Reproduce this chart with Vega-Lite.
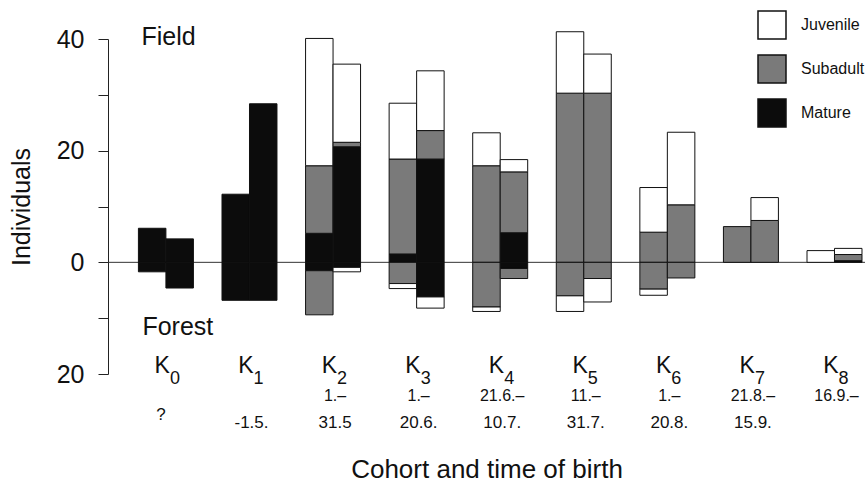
{
  "$schema": "https://vega.github.io/schema/vega-lite/v6.json",
  "width": 757,
  "height": 335,
  "autosize": {"type": "none"},
  "padding": {"left": 108, "top": 39, "right": 3, "bottom": 114},
  "background": "white",
  "config": {"view": {"stroke": null}, "font": "Liberation Sans"},
  "datasets": {
    "bars": [
      {"cohort": "K0", "bar": "a", "stage": "Mature", "rank": 1, "n": 6.1},
      {"cohort": "K0", "bar": "a", "stage": "Mature", "rank": 1, "n": -1.7},
      {"cohort": "K0", "bar": "b", "stage": "Mature", "rank": 1, "n": 4.2},
      {"cohort": "K0", "bar": "b", "stage": "Mature", "rank": 1, "n": -4.6},
      {"cohort": "K1", "bar": "a", "stage": "Mature", "rank": 1, "n": 12.2},
      {"cohort": "K1", "bar": "a", "stage": "Mature", "rank": 1, "n": -6.8},
      {"cohort": "K1", "bar": "b", "stage": "Mature", "rank": 1, "n": 28.4},
      {"cohort": "K1", "bar": "b", "stage": "Mature", "rank": 1, "n": -6.8},
      {"cohort": "K2", "bar": "a", "stage": "Mature", "rank": 1, "n": 5.2},
      {"cohort": "K2", "bar": "a", "stage": "Subadult", "rank": 2, "n": 12.1},
      {"cohort": "K2", "bar": "a", "stage": "Juvenile", "rank": 3, "n": 22.8},
      {"cohort": "K2", "bar": "a", "stage": "Mature", "rank": 1, "n": -1.5},
      {"cohort": "K2", "bar": "a", "stage": "Subadult", "rank": 2, "n": -7.9},
      {"cohort": "K2", "bar": "b", "stage": "Mature", "rank": 1, "n": 20.7},
      {"cohort": "K2", "bar": "b", "stage": "Subadult", "rank": 2, "n": 0.8},
      {"cohort": "K2", "bar": "b", "stage": "Juvenile", "rank": 3, "n": 14.0},
      {"cohort": "K2", "bar": "b", "stage": "Mature", "rank": 1, "n": -0.9},
      {"cohort": "K2", "bar": "b", "stage": "Juvenile", "rank": 3, "n": -0.8},
      {"cohort": "K3", "bar": "a", "stage": "Mature", "rank": 1, "n": 1.5},
      {"cohort": "K3", "bar": "a", "stage": "Subadult", "rank": 2, "n": 17.0},
      {"cohort": "K3", "bar": "a", "stage": "Juvenile", "rank": 3, "n": 10.0},
      {"cohort": "K3", "bar": "a", "stage": "Subadult", "rank": 2, "n": -3.8},
      {"cohort": "K3", "bar": "a", "stage": "Juvenile", "rank": 3, "n": -0.9},
      {"cohort": "K3", "bar": "b", "stage": "Mature", "rank": 1, "n": 18.5},
      {"cohort": "K3", "bar": "b", "stage": "Subadult", "rank": 2, "n": 5.1},
      {"cohort": "K3", "bar": "b", "stage": "Juvenile", "rank": 3, "n": 10.7},
      {"cohort": "K3", "bar": "b", "stage": "Mature", "rank": 1, "n": -6.2},
      {"cohort": "K3", "bar": "b", "stage": "Juvenile", "rank": 3, "n": -2.0},
      {"cohort": "K4", "bar": "a", "stage": "Subadult", "rank": 2, "n": 17.3},
      {"cohort": "K4", "bar": "a", "stage": "Juvenile", "rank": 3, "n": 5.9},
      {"cohort": "K4", "bar": "a", "stage": "Subadult", "rank": 2, "n": -8.0},
      {"cohort": "K4", "bar": "a", "stage": "Juvenile", "rank": 3, "n": -0.8},
      {"cohort": "K4", "bar": "b", "stage": "Mature", "rank": 1, "n": 5.3},
      {"cohort": "K4", "bar": "b", "stage": "Subadult", "rank": 2, "n": 10.9},
      {"cohort": "K4", "bar": "b", "stage": "Juvenile", "rank": 3, "n": 2.2},
      {"cohort": "K4", "bar": "b", "stage": "Mature", "rank": 1, "n": -1.1},
      {"cohort": "K4", "bar": "b", "stage": "Subadult", "rank": 2, "n": -1.8},
      {"cohort": "K5", "bar": "a", "stage": "Subadult", "rank": 2, "n": 30.3},
      {"cohort": "K5", "bar": "a", "stage": "Juvenile", "rank": 3, "n": 11.0},
      {"cohort": "K5", "bar": "a", "stage": "Subadult", "rank": 2, "n": -6.0},
      {"cohort": "K5", "bar": "a", "stage": "Juvenile", "rank": 3, "n": -2.8},
      {"cohort": "K5", "bar": "b", "stage": "Subadult", "rank": 2, "n": 30.3},
      {"cohort": "K5", "bar": "b", "stage": "Juvenile", "rank": 3, "n": 7.0},
      {"cohort": "K5", "bar": "b", "stage": "Subadult", "rank": 2, "n": -2.9},
      {"cohort": "K5", "bar": "b", "stage": "Juvenile", "rank": 3, "n": -4.2},
      {"cohort": "K6", "bar": "a", "stage": "Subadult", "rank": 2, "n": 5.4},
      {"cohort": "K6", "bar": "a", "stage": "Juvenile", "rank": 3, "n": 8.0},
      {"cohort": "K6", "bar": "a", "stage": "Subadult", "rank": 2, "n": -4.8},
      {"cohort": "K6", "bar": "a", "stage": "Juvenile", "rank": 3, "n": -1.1},
      {"cohort": "K6", "bar": "b", "stage": "Subadult", "rank": 2, "n": 10.3},
      {"cohort": "K6", "bar": "b", "stage": "Juvenile", "rank": 3, "n": 13.0},
      {"cohort": "K6", "bar": "b", "stage": "Subadult", "rank": 2, "n": -2.8},
      {"cohort": "K7", "bar": "a", "stage": "Subadult", "rank": 2, "n": 6.4},
      {"cohort": "K7", "bar": "b", "stage": "Subadult", "rank": 2, "n": 7.5},
      {"cohort": "K7", "bar": "b", "stage": "Juvenile", "rank": 3, "n": 4.1},
      {"cohort": "K8", "bar": "a", "stage": "Juvenile", "rank": 3, "n": 2.1},
      {"cohort": "K8", "bar": "b", "stage": "Mature", "rank": 1, "n": 0.3},
      {"cohort": "K8", "bar": "b", "stage": "Subadult", "rank": 2, "n": 1.1},
      {"cohort": "K8", "bar": "b", "stage": "Juvenile", "rank": 3, "n": 1.1}
    ],
    "cohorts": [
      {"cohort": "K0", "sub": "0", "from": "", "mid": "?", "to": ""},
      {"cohort": "K1", "sub": "1", "from": "", "mid": "", "to": "-1.5."},
      {"cohort": "K2", "sub": "2", "from": "1.–", "mid": "", "to": "31.5"},
      {"cohort": "K3", "sub": "3", "from": "1.–", "mid": "", "to": "20.6."},
      {"cohort": "K4", "sub": "4", "from": "21.6.–", "mid": "", "to": "10.7."},
      {"cohort": "K5", "sub": "5", "from": "11.–", "mid": "", "to": "31.7."},
      {"cohort": "K6", "sub": "6", "from": "1.–", "mid": "", "to": "20.8."},
      {"cohort": "K7", "sub": "7", "from": "21.8.–", "mid": "", "to": "15.9."},
      {"cohort": "K8", "sub": "8", "from": "16.9.–", "mid": "", "to": ""}
    ]
  },
  "layer": [
    {
      "data": {"values": [{}]},
      "mark": {"type": "rule", "color": "#333333", "strokeWidth": 1},
      "encoding": {"y": {"datum": 0}}
    },
    {
      "data": {"name": "bars"},
      "mark": {"type": "bar", "stroke": "#111111", "strokeWidth": 1},
      "encoding": {
        "x": {
          "field": "cohort",
          "type": "nominal",
          "scale": {"paddingInner": 0.342, "paddingOuter": 0.2, "align": 0.91},
          "axis": {
            "labels": false,
            "ticks": false,
            "domain": false,
            "title": "Cohort and time of birth",
            "titleFontSize": 26,
            "titleFontWeight": "normal",
            "titleColor": "#111111",
            "titlePadding": 82
          }
        },
        "xOffset": {
          "field": "bar",
          "type": "nominal",
          "scale": {"paddingInner": 0, "paddingOuter": 0}
        },
        "y": {
          "field": "n",
          "type": "quantitative",
          "stack": "zero",
          "scale": {"domain": [-20, 40], "nice": false},
          "axis": {
            "values": [-20, -10, 0, 10, 20, 30, 40],
            "labelExpr": "datum.value % 20 === 0 ? abs(datum.value) : ''",
            "grid": false,
            "tickSize": 10,
            "tickColor": "#222222",
            "domainColor": "#222222",
            "labelFontSize": 25,
            "labelColor": "#111111",
            "labelPadding": 14,
            "title": "Individuals",
            "titleFontSize": 25,
            "titleFontWeight": "normal",
            "titleColor": "#111111",
            "titlePadding": 22
          }
        },
        "color": {
          "field": "stage",
          "type": "nominal",
          "scale": {
            "domain": ["Juvenile", "Subadult", "Mature"],
            "range": ["#ffffff", "#7a7a7a", "#0c0c0c"]
          },
          "legend": {
            "title": null,
            "orient": "none",
            "legendX": 649,
            "legendY": -29,
            "symbolType": "square",
            "symbolSize": 784,
            "symbolStrokeColor": "#111111",
            "symbolStrokeWidth": 1.5,
            "symbolOpacity": 1,
            "labelFontSize": 16,
            "labelColor": "#111111",
            "labelOffset": 14,
            "rowPadding": 10
          }
        },
        "order": {"field": "rank", "type": "quantitative"}
      }
    },
    {
      "data": {"values": [{}]},
      "mark": {"type": "text", "text": "Field", "fontSize": 25, "align": "left", "baseline": "alphabetic", "dx": 3, "color": "#111111"},
      "encoding": {"x": {"datum": "K0", "bandPosition": 0}, "y": {"datum": 38.9}}
    },
    {
      "data": {"values": [{}]},
      "mark": {"type": "text", "text": "Forest", "fontSize": 25, "align": "left", "baseline": "alphabetic", "dx": 4, "color": "#111111"},
      "encoding": {"x": {"datum": "K0", "bandPosition": 0}, "y": {"datum": -13}}
    },
    {
      "data": {"name": "cohorts"},
      "mark": {"type": "text", "text": "K", "fontSize": 23, "align": "right", "baseline": "alphabetic", "dx": 4, "dy": -1, "color": "#111111"},
      "encoding": {"x": {"field": "cohort", "type": "nominal"}, "y": {"datum": -20}}
    },
    {
      "data": {"name": "cohorts"},
      "mark": {"type": "text", "fontSize": 18, "align": "left", "baseline": "alphabetic", "dx": 4, "dy": 10, "color": "#111111"},
      "encoding": {"x": {"field": "cohort", "type": "nominal"}, "y": {"datum": -20}, "text": {"field": "sub"}}
    },
    {
      "data": {"name": "cohorts"},
      "mark": {"type": "text", "fontSize": 16, "align": "center", "baseline": "middle", "dx": 2, "dy": 22, "color": "#111111"},
      "encoding": {"x": {"field": "cohort", "type": "nominal"}, "y": {"datum": -20}, "text": {"field": "from"}}
    },
    {
      "data": {"name": "cohorts"},
      "mark": {"type": "text", "fontSize": 17, "align": "center", "baseline": "middle", "dx": -5, "dy": 41, "color": "#111111"},
      "encoding": {"x": {"field": "cohort", "type": "nominal"}, "y": {"datum": -20}, "text": {"field": "mid"}}
    },
    {
      "data": {"name": "cohorts"},
      "mark": {"type": "text", "fontSize": 17, "align": "center", "baseline": "middle", "dx": 2, "dy": 49, "color": "#111111"},
      "encoding": {"x": {"field": "cohort", "type": "nominal"}, "y": {"datum": -20}, "text": {"field": "to"}}
    }
  ]
}
